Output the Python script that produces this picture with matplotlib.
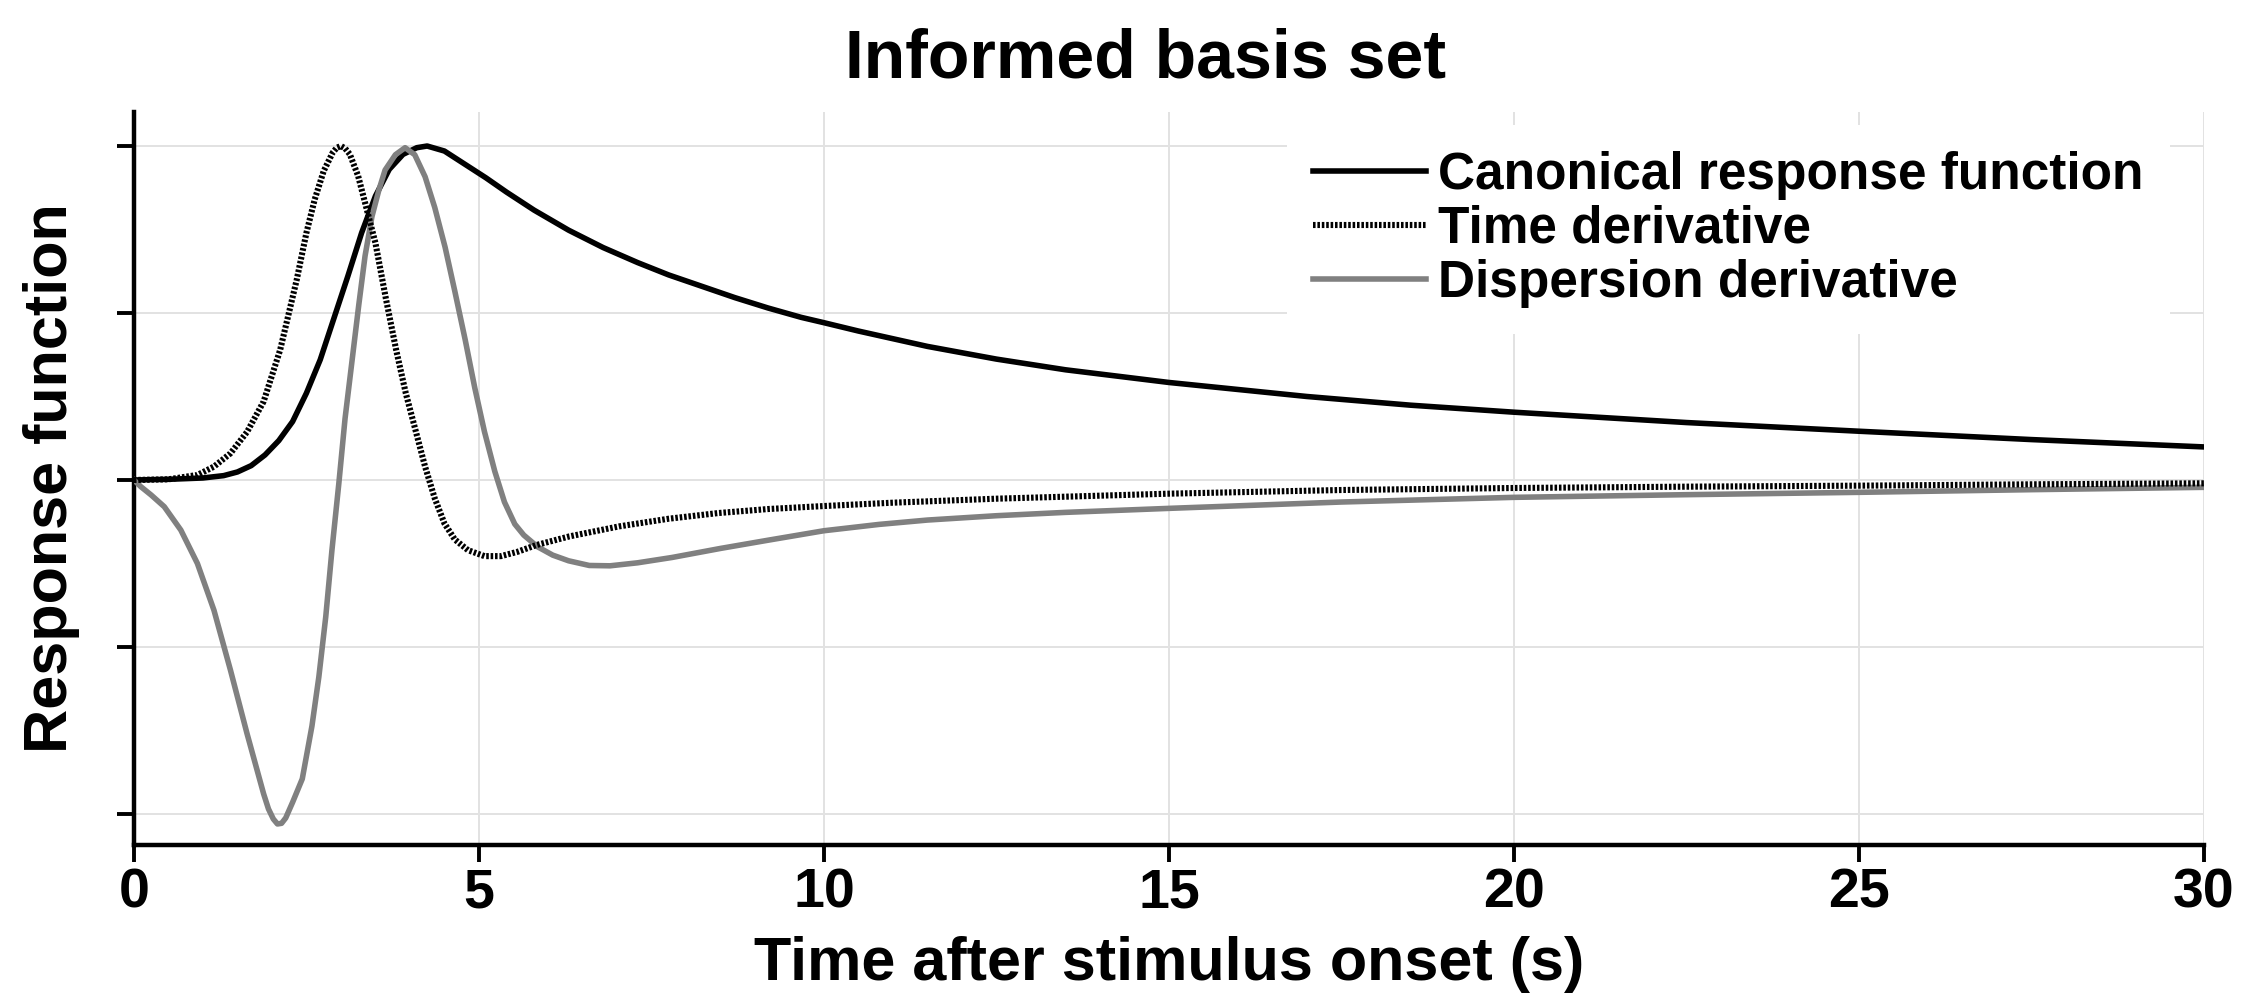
import matplotlib.pyplot as plt

plt.rcParams['font.family'] = ['Liberation Sans', 'DejaVu Sans']
plt.rcParams['font.weight'] = 'bold'

# canonical response function (normalised to its peak)
t_canon = [0, 0.5, 1.0, 1.3, 1.5, 1.7, 1.9, 2.1, 2.3, 2.5, 2.7, 2.9, 3.1,
           3.3, 3.5, 3.7, 3.9, 4.1, 4.25, 4.5, 4.8, 5.1, 5.4, 5.8, 6.3, 6.8,
           7.3, 7.75, 8.23, 8.71, 9.19, 9.67, 10.0, 10.5, 11.5, 12.5, 13.5,
           15, 17, 18.5, 20, 22.5, 25, 27.5, 30]
canon = [0, 0.002, 0.006, 0.013, 0.024, 0.043, 0.075, 0.118, 0.175, 0.26,
         0.36, 0.485, 0.61, 0.74, 0.85, 0.93, 0.975, 0.995, 1.0, 0.985,
         0.945, 0.905, 0.862, 0.808, 0.748, 0.696, 0.651, 0.614, 0.58,
         0.546, 0.515, 0.487, 0.471, 0.446, 0.40, 0.362, 0.33, 0.292, 0.25,
         0.224, 0.203, 0.172, 0.146, 0.121, 0.099]

# temporal derivative
t_deriv = [0, 0.5, 0.92, 1.16, 1.40, 1.64, 1.88, 2.12, 2.36, 2.50, 2.62,
           2.75, 2.88, 2.94, 3.0, 3.06, 3.13, 3.25, 3.35, 3.50, 3.65, 3.80,
           3.94, 4.08, 4.22, 4.36, 4.50, 4.65, 4.84, 5.08, 5.32, 5.56, 5.83,
           6.31, 7.03, 7.75, 8.47, 9.19, 10, 11, 12.5, 15, 17.5, 20, 22.5,
           25, 27.5, 30]
deriv = [0, 0.002, 0.015, 0.04, 0.08, 0.144, 0.235, 0.39, 0.6, 0.74, 0.84,
         0.925, 0.98, 0.995, 1.0, 0.993, 0.975, 0.91, 0.83, 0.71, 0.545,
         0.39, 0.26, 0.15, 0.04, -0.055, -0.13, -0.178, -0.21, -0.228,
         -0.228, -0.215, -0.195, -0.169, -0.139, -0.116, -0.099, -0.087,
         -0.078, -0.068, -0.056, -0.041, -0.03, -0.024, -0.02, -0.017,
         -0.013, -0.01]

# dispersion derivative
t_disp = [0, 0.1, 0.25, 0.44, 0.68, 0.92, 1.16, 1.40, 1.64, 1.88, 1.95,
          2.02, 2.08, 2.14, 2.2, 2.3, 2.44, 2.58, 2.68, 2.78, 2.87, 2.97,
          3.06, 3.16, 3.26, 3.35, 3.45, 3.55, 3.64, 3.79, 3.93, 4.07, 4.22,
          4.36, 4.51, 4.65, 4.80, 4.94, 5.08, 5.23, 5.37, 5.52, 5.65, 5.85,
          6.07, 6.3, 6.6, 6.9, 7.3, 7.8, 8.5, 9.2, 10.0, 10.8, 11.5, 12.5,
          13.5, 15, 17.5, 20, 22.5, 25, 27.5, 30]
disp = [0, -0.02, -0.045, -0.08, -0.15, -0.25, -0.39, -0.57, -0.76, -0.94,
        -0.985, -1.015, -1.03, -1.028, -1.012, -0.965, -0.895, -0.737,
        -0.59, -0.41, -0.21, -0.01, 0.184, 0.355, 0.526, 0.671, 0.789,
        0.868, 0.928, 0.974, 0.995, 0.974, 0.908, 0.816, 0.697, 0.566,
        0.421, 0.276, 0.145, 0.026, -0.066, -0.132, -0.165, -0.2, -0.225,
        -0.242, -0.256, -0.257, -0.248, -0.232, -0.205, -0.18, -0.152,
        -0.133, -0.12, -0.107, -0.097, -0.085, -0.066, -0.052, -0.044,
        -0.037, -0.029, -0.022]

x_ticks = [0, 5, 10, 15, 20, 25, 30]
y_ticks = [-1, -0.5, 0, 0.5, 1]

fig = plt.figure(figsize=(22.47, 10.05), dpi=100)
ax = fig.add_axes([0.0596, 0.1592, 0.9212, 0.7294])

ax.plot(t_canon, canon, color='black', lw=4.0, zorder=3,
        solid_joinstyle='round', label='Canonical response function')
ax.plot(t_deriv, deriv, color='black', lw=4.4, ls=(0, (0.42, 0.3)),
        zorder=5, label='Time derivative')
ax.plot(t_disp, disp, color='#808080', lw=4.0, zorder=4,
        solid_joinstyle='round', label='Dispersion derivative')

ax.set_xlim(0, 30)
ax.set_ylim(-1.093, 1.102)
ax.set_xticks(x_ticks)
ax.set_yticks(y_ticks)
ax.set_yticklabels([])
ax.grid(True, color='#e2e2e2', lw=1.4, zorder=0)
ax.set_axisbelow(True)

for side in ['top', 'right']:
    ax.spines[side].set_visible(False)
for side in ['left', 'bottom']:
    ax.spines[side].set_linewidth(3.2)
ax.tick_params(direction='out', length=12, width=2.8, labelsize=40, pad=4)

ax.set_xlabel('Time after stimulus onset (s)', fontsize=44,
              fontweight='bold', labelpad=12)
ax.set_ylabel('Response function', fontsize=44, fontweight='bold')
ax.yaxis.set_label_coords(-0.026, 0.5)

fig.text(0.51, 0.923, 'Informed basis set', fontsize=49, fontweight='bold',
         ha='center', va='baseline')

leg = ax.legend(loc='upper left', bbox_to_anchor=(0.557, 0.982),
                borderaxespad=0, borderpad=0.5, fontsize=37,
                handlelength=2.2, handletextpad=0.25, labelspacing=0.1,
                frameon=True, fancybox=False, framealpha=1,
                edgecolor='none', facecolor='white')
leg.set_zorder(6)

fig.savefig('out.png', dpi=100)
